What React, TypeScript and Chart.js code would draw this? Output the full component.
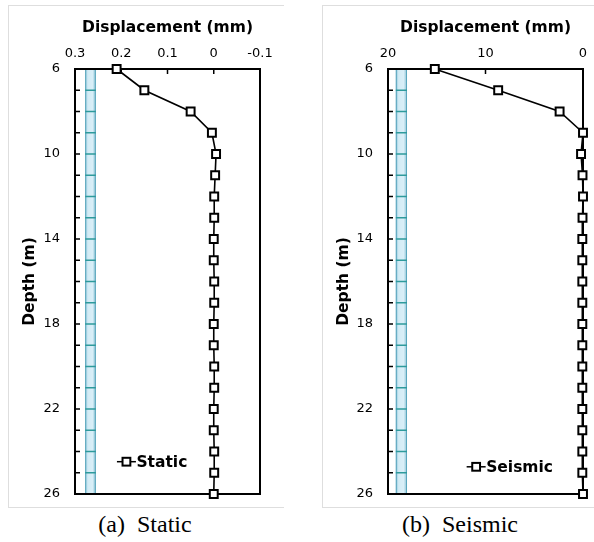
import React, { useEffect, useRef } from 'react';
import { Chart, registerables } from 'chart.js';

Chart.register(...registerables);

// ---- data ----
const depths = [6, 7, 8, 9, 10, 11, 12, 13, 14, 15, 16, 17, 18, 19, 20, 21, 22, 23, 24, 25, 26];
const staticDisp = [0.21, 0.15, 0.05, 0.004, -0.005, -0.003, -0.001, -0.001, 0, 0, -0.001, -0.001, 0, 0, -0.001, -0.001, 0, 0, -0.001, -0.001, 0];
const seismicDisp = [15.2, 8.7, 2.4, 0.0, 0.2, 0.05, 0.0, 0.05, 0.07, 0.07, 0.07, 0.07, 0.07, 0.07, 0.07, 0.07, 0.07, 0.07, 0.07, 0.07, 0.0];
const staticXTicks = [0.3, 0.2, 0.1, 0, -0.1];
const seismicXTicks = [20, 10, 0];
const depthTicks = [6, 10, 14, 18, 22, 26];
const staticPile = [0.278, 0.255];
const seismicPile = [19.2, 18.05];
const staticLabel = 'Static';
const seismicLabel = 'Seismic';
const xTitle = 'Displacement (mm)';
const yTitle = 'Depth (m)';

const FONT = 'DejaVu Sans';

function makeDecor(pile: number[], legendPos: { fx: number; fy: number }) {
  return {
    id: 'decor',
    beforeDatasetsDraw(chart: any) {
      const { ctx, chartArea: a, scales } = chart;
      const x = scales.x;
      const y = scales.y;
      ctx.save();
      // pile
      const x1 = x.getPixelForValue(pile[0]);
      const x2 = x.getPixelForValue(pile[1]);
      const L = Math.min(x1, x2);
      const R = Math.max(x1, x2);
      const g = ctx.createLinearGradient(L, 0, R, 0);
      g.addColorStop(0, '#8cc4d8');
      g.addColorStop(0.25, '#d2ebf5');
      g.addColorStop(0.7, '#d9eff8');
      g.addColorStop(1, '#86bfd2');
      ctx.fillStyle = g;
      ctx.fillRect(L, a.top, R - L, a.bottom - a.top);
      ctx.strokeStyle = '#5aa6bd';
      ctx.lineWidth = 1;
      ctx.beginPath();
      ctx.moveTo(L + 0.5, a.top);
      ctx.lineTo(L + 0.5, a.bottom);
      ctx.moveTo(R - 0.5, a.top);
      ctx.lineTo(R - 0.5, a.bottom);
      ctx.stroke();
      ctx.strokeStyle = '#2e9a9c';
      ctx.lineWidth = 1.5;
      ctx.beginPath();
      for (let d = Math.round(y.min) + 1; d < y.max; d++) {
        const py = y.getPixelForValue(d);
        ctx.moveTo(L, py);
        ctx.lineTo(R, py);
      }
      ctx.stroke();
      // minor ticks on left axis (inward)
      ctx.strokeStyle = '#000';
      ctx.lineWidth = 1.5;
      ctx.beginPath();
      for (let d = Math.round(y.min) + 1; d < y.max; d++) {
        const py = y.getPixelForValue(d);
        ctx.moveTo(a.left, py);
        ctx.lineTo(a.left + 5, py);
      }
      // top axis ticks (inward)
      for (const t of x.ticks) {
        const px = x.getPixelForValue(t.value);
        if (px > a.left + 2 && px < a.right - 2) {
          ctx.moveTo(px, a.top);
          ctx.lineTo(px, a.top + 5);
        }
      }
      ctx.stroke();
      // frame
      ctx.lineWidth = 2;
      ctx.strokeRect(a.left, a.top, a.right - a.left, a.bottom - a.top);
      ctx.restore();
    },
    afterDatasetsDraw(chart: any) {
      const { ctx, chartArea: a } = chart;
      const ds = chart.data.datasets[0];
      const cx = a.left + legendPos.fx * (a.right - a.left);
      const cy = a.top + legendPos.fy * (a.bottom - a.top);
      ctx.save();
      ctx.strokeStyle = '#000';
      ctx.lineWidth = 1.5;
      ctx.beginPath();
      ctx.moveTo(cx - 9.5, cy);
      ctx.lineTo(cx + 9.5, cy);
      ctx.stroke();
      const s = 7.8;
      ctx.fillStyle = '#fff';
      ctx.lineWidth = 2;
      ctx.fillRect(cx - s / 2, cy - s / 2, s, s);
      ctx.strokeRect(cx - s / 2, cy - s / 2, s, s);
      ctx.fillStyle = '#000';
      ctx.font = `bold 15.5px "${FONT}"`;
      ctx.textBaseline = 'middle';
      ctx.textAlign = 'left';
      ctx.fillText(ds.label, cx + 10, cy + 1);
      ctx.restore();
    },
  };
}

function buildConfig(
  values: number[],
  label: string,
  xTicks: number[],
  xMin: number,
  xMax: number,
  pile: number[],
  yAxisWidth: number,
  padRight: number,
  legendPos: { fx: number; fy: number }
): any {
  return {
    type: 'line',
    data: {
      datasets: [
        {
          label,
          data: depths.map((d, i) => ({ x: values[i], y: d })),
          borderColor: '#000',
          borderWidth: 1.6,
          pointStyle: 'rect',
          pointRadius: 5.6,
          pointBorderWidth: 2,
          pointBackgroundColor: '#fff',
          pointBorderColor: '#000',
          fill: false,
          tension: 0,
          clip: false,
        },
      ],
    },
    options: {
      responsive: false,
      animation: false,
      events: [],
      layout: { padding: { left: 0, top: 0, right: padRight, bottom: 13 } },
      plugins: { legend: { display: false }, tooltip: { enabled: false } },
      scales: {
        x: {
          type: 'linear',
          position: 'top',
          reverse: true,
          min: xMin,
          max: xMax,
          grid: { display: false, drawTicks: false },
          border: { display: false },
          ticks: {
            autoSkip: false,
            padding: 8,
            color: '#000',
            font: { family: FONT, size: 13 },
            callback: (v: any) => String(v),
          },
          afterBuildTicks: (scale: any) => {
            scale.ticks = [...xTicks].sort((p, q) => p - q).map((v) => ({ value: v }));
          },
          afterFit: (scale: any) => {
            scale.height = 64;
            scale.paddingLeft = 0;
            scale.paddingRight = 0;
          },
          title: {
            display: true,
            text: xTitle,
            color: '#000',
            font: { family: FONT, size: 15.5, weight: 'bold' },
            padding: { top: 14, bottom: 0 },
          },
        },
        y: {
          type: 'linear',
          position: 'left',
          reverse: true,
          min: 6,
          max: 26,
          grid: { display: false, drawTicks: false },
          border: { display: false },
          ticks: {
            autoSkip: false,
            padding: 15,
            color: '#000',
            font: { family: FONT, size: 13 },
            callback: (v: any) => String(v),
          },
          afterBuildTicks: (scale: any) => {
            scale.ticks = depthTicks.map((v) => ({ value: v }));
          },
          afterFit: (scale: any) => {
            scale.width = yAxisWidth;
            scale.paddingTop = 0;
            scale.paddingBottom = 0;
          },
          title: {
            display: true,
            text: yTitle,
            color: '#000',
            font: { family: FONT, size: 15.5, weight: 'bold' },
            padding: { top: 13, bottom: 0 },
          },
        },
      },
    },
    plugins: [makeDecor(pile, legendPos)],
  };
}

export default function App() {
  const refA = useRef<HTMLCanvasElement | null>(null);
  const refB = useRef<HTMLCanvasElement | null>(null);

  useEffect(() => {
    Chart.defaults.font.family = FONT;
    Chart.defaults.color = '#000';
    const a = new Chart(
      refA.current as HTMLCanvasElement,
      buildConfig(staticDisp, staticLabel, staticXTicks, -0.1, 0.3, staticPile, 67, 23, { fx: 0.278, fy: 0.924 })
    );
    const b = new Chart(
      refB.current as HTMLCanvasElement,
      buildConfig(seismicDisp, seismicLabel, seismicXTicks, 0, 20, seismicPile, 66, 11, { fx: 0.452, fy: 0.936 })
    );
    return () => {
      a.destroy();
      b.destroy();
    };
  }, []);

  const frame = (left: number, width: number): React.CSSProperties => ({
    position: 'absolute',
    left,
    top: 5,
    width,
    height: 503,
    boxSizing: 'border-box',
    borderLeft: '1px solid #dedede',
    borderTop: '1px solid #dedede',
    borderBottom: '1px solid #dedede',
  });

  const caption = (center: number): React.CSSProperties => ({
    position: 'absolute',
    left: center - 100,
    width: 200,
    top: 510,
    lineHeight: '28px',
    textAlign: 'center',
    fontFamily: '"Liberation Serif", "Times New Roman", serif',
    fontSize: 24,
    whiteSpace: 'pre',
    color: '#000',
  });

  return (
    <div style={{ position: 'absolute', left: 0, top: 0, width: 594, height: 542, background: '#fff', overflow: 'hidden' }}>
      <div style={frame(8, 276)} />
      <div style={frame(322, 272)} />
      <canvas ref={refA} width={275} height={502} style={{ position: 'absolute', left: 8, top: 5, width: 275, height: 502 }} />
      <canvas ref={refB} width={272} height={502} style={{ position: 'absolute', left: 322, top: 5, width: 272, height: 502 }} />
      <div style={caption(145)}>{'(a)  Static'}</div>
      <div style={caption(460)}>{'(b)  Seismic'}</div>
    </div>
  );
}
